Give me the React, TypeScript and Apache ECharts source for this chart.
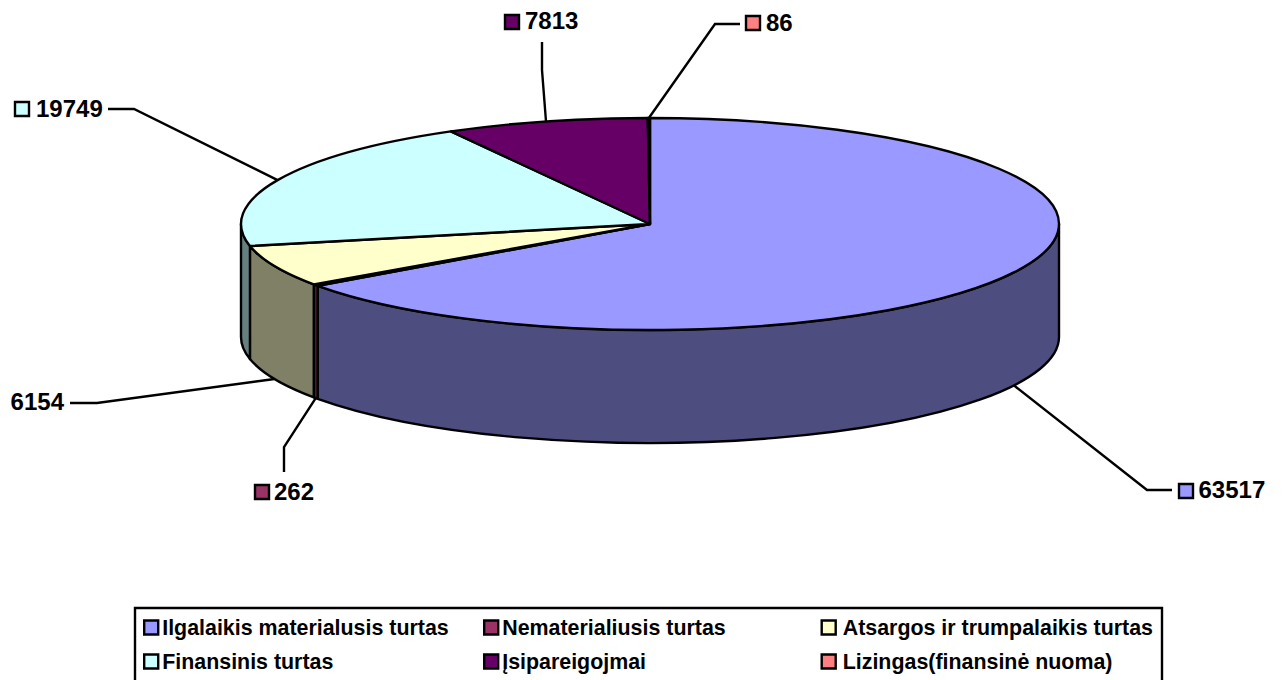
import React, { useEffect, useRef } from "react";
import * as echarts from "echarts";

const sliceNames = [
  "Ilgalaikis materialusis turtas",
  "Nematerialiusis turtas",
  "Atsargos ir trumpalaikis turtas",
  "Finansinis turtas",
  "Įsipareigojmai",
  "Lizingas(finansinė nuoma)",
];
const sliceValues = [63517, 262, 6154, 19749, 7813, 86];
const topColors = ["#9999FF", "#993366", "#FFFFCC", "#CCFFFF", "#660066", "#FF8080"];
const wallColors = ["#4D4D80", "#4D1A33", "#808066", "#668080", "#330033", "#804040"];
const legendColumns = [
  { left: 143, textShift: -1, names: [sliceNames[0], sliceNames[3]] },
  { left: 483, textShift: -1, names: [sliceNames[1], sliceNames[4]] },
  { left: 820.5, textShift: 2, names: [sliceNames[2], sliceNames[5]] },
];

const CX = 650;
const CY = 224;
const RX = 409;
const RY = 106;
const DEPTH = 113;
const STROKE = 2.4;
const FONT = '"Liberation Sans", Arial, sans-serif';

// leader elbow, leader end, label anchor; marker box left edge (null when the label has none)
const labelLayout = [
  { anchorOnWall: true, elbow: [1147, 490], end: [1172, 490], marker: [1178, 483], text: [1198.5, 489], align: "left" },
  { anchorOnWall: true, elbow: [284, 447], end: [284, 472], marker: [254, 484], text: [274, 491], align: "left" },
  { anchorOnWall: true, elbow: [97, 403], end: [70, 403], marker: null, text: [64, 401], align: "right" },
  { anchorOnWall: false, elbow: [134, 109], end: [108, 109], marker: [14, 101], text: [36, 108], align: "left" },
  { anchorOnWall: false, elbow: [542, 70], end: [542, 42], marker: [504, 14], text: [525, 20], align: "left" },
  { anchorOnWall: false, elbow: [715, 24], end: [740, 24], marker: [745, 15], text: [766, 22], align: "left" },
];

const total = sliceValues.reduce((a, b) => a + b, 0);
const pointAt = (deg: number, dy = 0): [number, number] => {
  const r = (deg * Math.PI) / 180;
  return [CX + RX * Math.sin(r), CY - RY * Math.cos(r) + dy];
};

const makeRenderItem = (index: number) => (_params: any, api: any) => {
  const value = api.value(0);
  const before = sliceValues.slice(0, index).reduce((a, b) => a + b, 0);
  const start = (before / total) * 360;
  const end = ((before + value) / total) * 360;
  const mid = (start + end) / 2;
  const children: any[] = [];

  const wallStart = Math.max(start, 90);
  const wallEnd = Math.min(end, 270);
  if (wallEnd > wallStart) {
    const a = pointAt(wallStart);
    const b = pointAt(wallEnd);
    const c = pointAt(wallEnd, DEPTH);
    const d = pointAt(wallStart, DEPTH);
    children.push({
      type: "path",
      shape: {
        pathData: `M${a[0]} ${a[1]}A${RX} ${RY} 0 0 1 ${b[0]} ${b[1]}L${c[0]} ${c[1]}A${RX} ${RY} 0 0 0 ${d[0]} ${d[1]}Z`,
      },
      style: { fill: wallColors[index], stroke: "#000", lineWidth: STROKE, lineJoin: "round" },
    });
  }
  const p0 = pointAt(start);
  const p1 = pointAt(end);
  const large = end - start > 180 ? 1 : 0;
  children.push({
    type: "path",
    shape: {
      pathData: `M${CX} ${CY}L${p0[0]} ${p0[1]}A${RX} ${RY} 0 ${large} 1 ${p1[0]} ${p1[1]}Z`,
    },
    style: { fill: topColors[index], stroke: "#000", lineWidth: STROKE, lineJoin: "round" },
  });

  const layout = labelLayout[index];
  const anchor = pointAt(mid, layout.anchorOnWall ? DEPTH : 0);
  children.push({
    type: "polyline",
    shape: { points: [anchor, layout.elbow, layout.end] },
    style: { stroke: "#000", lineWidth: STROKE, fill: "none" },
  });
  if (layout.marker) {
    children.push({
      type: "rect",
      shape: { x: layout.marker[0] + 1, y: layout.marker[1] + 1, width: 14, height: 14 },
      style: { fill: topColors[index], stroke: "#000", lineWidth: STROKE },
    });
  }
  children.push({
    type: "text",
    style: {
      x: layout.text[0],
      y: layout.text[1],
      text: String(value),
      fill: "#000",
      font: `bold 24px ${FONT}`,
      align: layout.align,
      verticalAlign: "middle",
    },
  });
  return { type: "group", children };
};

export default function App() {
  const ref = useRef<HTMLDivElement>(null);
  useEffect(() => {
    document.body.style.margin = "0";
    const chart = echarts.init(ref.current!, undefined, { renderer: "svg" });
    chart.setOption({
      animation: false,
      backgroundColor: "#fff",
      legend: legendColumns.map((col) => ({
        show: true,
        orient: "vertical",
        left: col.left,
        top: 617,
        padding: 0,
        itemGap: 13,
        itemWidth: 14,
        itemHeight: 14,
        icon: "rect",
        selectedMode: false,
        data: col.names,
        itemStyle: { borderColor: "#000", borderWidth: STROKE },
        textStyle: { color: "#000", fontFamily: FONT, fontWeight: "bold", fontSize: 21.4, padding: [0, 0, 0, col.textShift] },
      })),
      graphic: [
        {
          type: "rect",
          silent: true,
          z: -1,
          shape: { x: 135, y: 608, width: 1027, height: 90 },
          style: { fill: "#fff", stroke: "#000", lineWidth: STROKE },
        },
      ],
      series: sliceNames.map((name, i) => ({
        type: "custom",
        name,
        coordinateSystem: "none",
        silent: true,
        clip: false,
        itemStyle: { color: topColors[i] },
        data: [[sliceValues[i]]],
        renderItem: makeRenderItem(i),
      })),
    });
    return () => chart.dispose();
  }, []);
  return <div ref={ref} style={{ width: 1282, height: 680, overflow: "hidden" }} />;
}
